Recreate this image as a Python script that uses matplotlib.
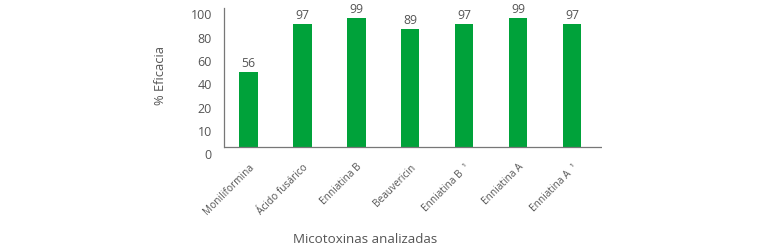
import matplotlib
matplotlib.use("Agg")
import matplotlib.pyplot as plt

# data (bar heights as drawn, labels as printed)
toxinas = ['Moniliformina', 'Ácido fusárico', 'Enniatina B', 'Beauvericin',
           'Enniatina B  ¹', 'Enniatina A', 'Enniatina A  ¹']
altura = [56, 92, 96.5, 88.3, 92, 96.5, 92]
etiquetas = ['56', '97', '99', '89', '97', '99', '97']
ytick_labels = ['0', '10', '20', '40', '60', '80', '100']

verde = '#00A23A'
gris = '#555555'

plt.rcParams['font.family'] = ['Open Sans', 'DejaVu Sans']

fig = plt.figure(figsize=(7.68, 2.51), dpi=100)
ax = fig.add_axes([224.3 / 768, 1 - 156.3 / 251, (601.7 - 224.3) / 768, (156.3 - 9) / 251])

x = list(range(len(toxinas)))
bars = ax.bar(x, altura, width=0.34, color=verde, zorder=2)
for b, lab in zip(bars, etiquetas):
    ax.text(b.get_x() + b.get_width() / 2, b.get_height() + 2.4, lab,
            ha='center', va='bottom', fontsize=8.8, color=gris)

ax.set_xlim(-0.45, 6.55)
ax.set_ylim(-6, 104)

# the reference spaces its tick labels evenly, not on a linear scale
step = 17.41
ypos = [100 - (len(ytick_labels) - 1 - i) * step for i in range(len(ytick_labels))]
ax.set_yticks(ypos)
ax.set_yticklabels(ytick_labels, fontsize=9, color=gris)
ax.tick_params(axis='y', length=0, pad=9)

ax.set_xticks(x)
ax.set_xticklabels(toxinas, rotation=45, ha='right', rotation_mode='anchor',
                   fontsize=7.3, color=gris)
ax.tick_params(axis='x', length=0, pad=4)

for s in ['top', 'right', 'bottom']:
    ax.spines[s].set_visible(False)
ax.spines['left'].set_bounds(0, 104)
ax.spines['left'].set_color('#777777')
ax.spines['left'].set_linewidth(0.9)
ax.axhline(0, color='#777777', linewidth=0.9, zorder=3)

fig.text(160 / 768, 1 - 76 / 251, '% Eficacia', rotation=90, ha='center', va='center',
         fontsize=9.3, color=gris)
fig.text(365 / 768, 1 - 240 / 251, 'Micotoxinas analizadas', ha='center', va='center',
         fontsize=9.6, color=gris)

fig.savefig('out.png', dpi=100)
